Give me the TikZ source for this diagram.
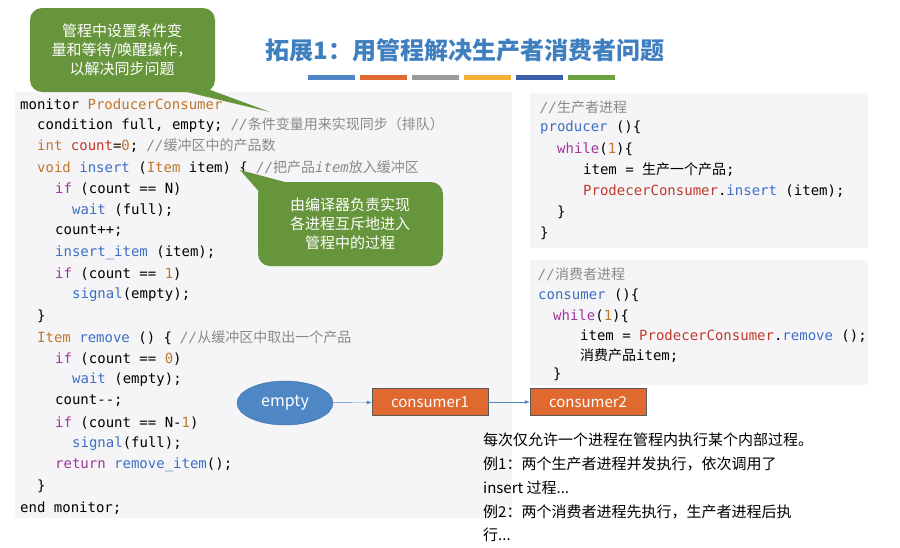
\documentclass[tikz,border=0pt]{standalone}
\usepackage{fontspec}
\setmainfont{Noto Sans CJK SC}
\setmonofont{DejaVu Sans Mono}
\newfontfamily\cjk{Noto Sans CJK SC}
\usetikzlibrary{shapes.geometric,arrows.meta}
\definecolor{kwc}{HTML}{A0379B}
\definecolor{fnc}{HTML}{3D6FC4}
\definecolor{tyc}{HTML}{C0762B}
\definecolor{rdc}{HTML}{C0392B}
\definecolor{cmc}{HTML}{8A8A8A}
\definecolor{panel}{HTML}{F5F5F7}
\definecolor{bubble}{HTML}{67953C}
\definecolor{ttl}{HTML}{3F7FBF}
\definecolor{ellc}{HTML}{4F86C6}
\definecolor{boxc}{HTML}{E0692F}
\newcommand{\kw}[1]{\textcolor{kwc}{#1}}
\newcommand{\fn}[1]{\textcolor{fnc}{#1}}
\newcommand{\ty}[1]{\textcolor{tyc}{#1}}
\newcommand{\rd}[1]{\textcolor{rdc}{#1}}
\newcommand{\cm}[1]{\textcolor{cmc}{\textit{#1}}}
\newcommand{\zh}[1]{{\cjk #1}}
\tikzset{
  code/.style={anchor=west, inner sep=0pt, font=\ttfamily\fontsize{14}{16}\selectfont},
  panelbox/.style={fill=panel, draw=none},
  bub/.style={fill=bubble, draw=none, rounded corners=12pt},
  bubtext/.style={text=white, align=center, font=\fontsize{15}{19}\selectfont},
  proc/.style={rectangle, fill=boxc, draw=gray!70!black, minimum width=116pt, minimum height=27pt, text=white, font=\fontsize{15}{17}\selectfont},
  link/.style={-{Latex[length=5pt]}, draw=ellc, thin},
  note/.style={anchor=west, inner sep=0pt, font=\fontsize{15}{17}\selectfont}
}
\begin{document}
\begin{tikzpicture}[x=1pt,y=-1pt]
\useasboundingbox (0,0) rectangle (900,547);
% title and colour bars
\node (title) at (465,50) {\textcolor{ttl}{\fontsize{24}{28}\selectfont\bfseries 拓展1：用管程解决生产者消费者问题}};
\foreach \x/\c in {308/4F86C6,360/E0692F,412/9A9A9A,464/F2B134,516/3D5FA8,568/6BA13E}{
  \definecolor{barc}{HTML}{\c}
  \fill[barc] (\x,75) rectangle ++(47,5);
}
% panels
\fill[panelbox] (15,92) rectangle (512,518);
\fill[panelbox] (530,93) rectangle (868,248);
\fill[panelbox] (530,260) rectangle (868,385);
% monitor code
\node[code] (m1) at (20,104) {monitor \ty{ProducerConsumer}};
\node[code] (m2) at (37,125) {condition full, empty;  \cm{//\zh{条件变量用来实现同步（排队）}}};
\node[code] (m3) at (37,146) {\ty{int} \rd{count}=\ty{0};  \cm{//\zh{缓冲区中的产品数}}};
\node[code] (m4) at (37,168) {\ty{void} \fn{insert} (\ty{Item} item) \{ \cm{//\zh{把产品}item\zh{放入缓冲区}}};
\node[code] (m5) at (55,189) {\kw{if} (count == N)};
\node[code] (m6) at (72,210) {\fn{wait} (full);};
\node[code] (m7) at (55,231) {count++;};
\node[code] (m8) at (55,253) {\fn{insert\_item} (item);};
\node[code] (m9) at (55,274) {\kw{if} (count == \ty{1})};
\node[code] (m10) at (72,295) {\fn{signal}(empty);};
\node[code] (m11) at (37,316) {\}};
\node[code] (m12) at (37,338) {\ty{Item} \fn{remove} () \{  \cm{//\zh{从缓冲区中取出一个产品}}};
\node[code] (m13) at (55,359) {\kw{if} (count == \ty{0})};
\node[code] (m14) at (72,380) {\fn{wait} (empty);};
\node[code] (m15) at (55,401) {count--;};
\node[code] (m16) at (55,423) {\kw{if} (count == N-\ty{1})};
\node[code] (m17) at (72,444) {\fn{signal}(full);};
\node[code] (m18) at (55,465) {\kw{return} \fn{remove\_item}();};
\node[code] (m19) at (37,486) {\}};
\node[code] (m20) at (20,508) {end monitor;};
% producer code
\node[code] (p1) at (540,107) {\cm{//\zh{生产者进程}}};
\node[code] (p2) at (540,128) {\fn{producer} ()\{};
\node[code] (p3) at (557,149) {\kw{while}(\ty{1})\{};
\node[code] (p4) at (583,170) {item = \zh{生产一个产品};};
\node[code] (p5) at (583,191) {\rd{ProdecerConsumer}.\fn{insert} (item);};
\node[code] (p6) at (557,212) {\}};
\node[code] (p7) at (540,233) {\}};
% consumer code
\node[code] (c1) at (538,274) {\cm{//\zh{消费者进程}}};
\node[code] (c2) at (538,295) {\fn{consumer} ()\{};
\node[code] (c3) at (553,316) {\kw{while}(\ty{1})\{};
\node[code] (c4) at (580,336) {item = \rd{ProdecerConsumer}.\fn{remove} ();};
\node[code] (c5) at (580,356) {\zh{消费产品}item;};
\node[code] (c6) at (553,374) {\}};
% bubbles
\fill[bubble] (170,88) -- (270,112) -- (205,88) -- cycle;
\fill[bub] (30,8) rectangle (215,92);
\node[bubtext] (b1) at (122,50) {管程中设置条件变\\量和等待/唤醒操作，\\以解决同步问题};
\fill[bubble] (262,195) -- (240,170) -- (300,186) -- cycle;
\fill[bub] (258,182) rectangle (443,266);
\node[bubtext] (b2) at (350,224) {由编译器负责实现\\各进程互斥地进入\\管程中的过程};
% queue
\node[ellipse, fill=ellc, draw=ellc!80!black, minimum width=96pt, minimum height=44pt, text=white, font=\fontsize{16}{18}\selectfont] (empty) at (285,403) {empty};
\node[proc] (cons1) at (430,402) {consumer1};
\node[proc] (cons2) at (588,402) {consumer2};
\draw[link] (empty) -- (cons1);
\draw[link] (cons1) -- (cons2);
% notes
\node[note] (n1) at (483,440) {每次仅允许一个进程在管程内执行某个内部过程。};
\node[note] (n2) at (483,464) {例1：两个生产者进程并发执行，依次调用了};
\node[note] (n3) at (483,488) {insert 过程...};
\node[note] (n4) at (483,512) {例2：两个消费者进程先执行，生产者进程后执};
\node[note] (n5) at (483,535) {行...};
\end{tikzpicture}
\end{document}
